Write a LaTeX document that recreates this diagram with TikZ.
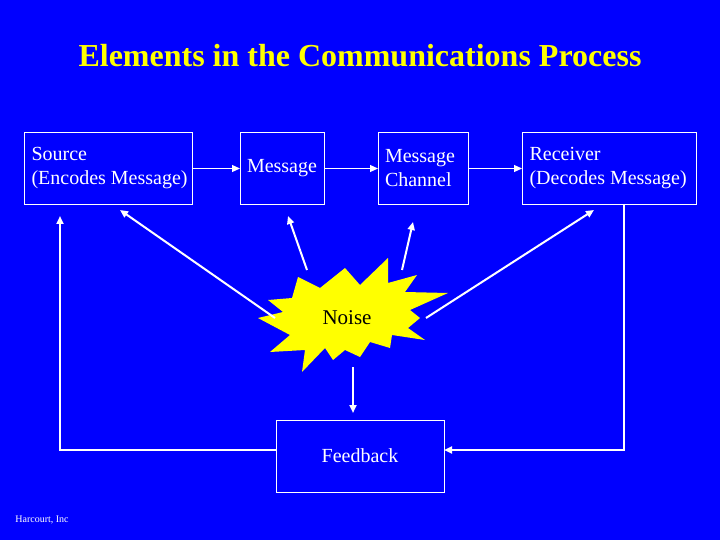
\documentclass[tikz,border=0pt]{standalone}
\usepackage{fontspec}
\setmainfont{Liberation Serif}
\usetikzlibrary{arrows.meta}
\definecolor{bg}{RGB}{0,0,255}
\definecolor{ttl}{RGB}{255,255,0}
\definecolor{burst}{RGB}{255,255,0}
\begin{document}
\begin{tikzpicture}[x=1pt,y=-1pt,
 box/.style={draw=white,line width=1pt,text=white,inner sep=0pt,anchor=north west},
 txt/.style={text=white,font=\fontsize{20}{24}\selectfont,align=left},
 arr/.style={draw=white,line width=2pt,-{Triangle[length=8pt,width=7pt]}},
 ln/.style={draw=white,line width=2pt}]
\fill[bg] (0,0) rectangle (720,540);
\useasboundingbox (0,0) rectangle (720,540);
\node[text=ttl,font=\bfseries\fontsize{32}{36}\selectfont] (title) at (360,56) {Elements in the Communications Process};
\node[box,minimum width=168pt,minimum height=72pt] (src) at (24,132) {};
\node[txt,anchor=west] (srct) at (28,168) {Source\\(Encodes Message)};
\node[box,minimum width=84pt,minimum height=72pt] (msg) at (240,132) {};
\node[txt] (msgt) at (282,168) {Message};
\node[box,minimum width=90pt,minimum height=72pt] (ch) at (378,132) {};
\node[txt] (cht) at (420,168) {Message\\Channel};
\node[box,minimum width=174pt,minimum height=72pt] (rc) at (522,132) {};
\node[txt,anchor=west] (rct) at (526,168) {Receiver\\(Decodes Message)};
\node[box,minimum width=168pt,minimum height=72pt] (fb) at (276,420) {};
\node[txt] (fbt) at (360,456) {Feedback};
\fill[burst] (258,318) -- (283,312) -- (268,300) -- (292,298) -- (298,277) -- (320,288) -- (345,268) -- (360,285) -- (388,258) -- (388,283) -- (417,275) -- (405,292) -- (448,293) -- (410,310) -- (420,318) -- (408,328) -- (425,340) -- (392,335) -- (390,348) -- (370,342) -- (360,357) -- (345,350) -- (333,360) -- (325,348) -- (302,372) -- (305,350) -- (270,352) -- (290,335) -- cycle;
\node[text=black,font=\fontsize{21}{24}\selectfont] (noise) at (347,318) {Noise};
\coordinate (n1) at (275,318); \coordinate (a1) at (120,210);
\coordinate (n2) at (307,270); \coordinate (a2) at (288,216);
\coordinate (n3) at (402,270); \coordinate (a3) at (413,222);
\coordinate (n4) at (426,318); \coordinate (a4) at (594,210);
\coordinate (n5) at (353,367); \coordinate (a5) at (353,413);
\draw[arr] (n1) -- (a1);
\draw[arr] (n2) -- (a2);
\draw[arr] (n3) -- (a3);
\draw[arr] (n4) -- (a4);
\draw[arr] (n5) -- (a5);
\draw[arr,line width=1.2pt] (src.east) -- (msg.west);
\draw[arr,line width=1.2pt] (msg.east) -- (ch.west);
\draw[arr,line width=1.2pt] (ch.east) -- (rc.west);
\coordinate (r1) at (624,204); \coordinate (r2) at (624,450);
\coordinate (fbr) at (444,450); \coordinate (fbl) at (276,450);
\coordinate (l1) at (60,450); \coordinate (l2) at (60,216);
\draw[arr] (r1) -- (r2) -- (fbr);
\draw[arr] (fbl) -- (l1) -- (l2);
\node[text=white,font=\fontsize{10}{11}\selectfont] (hc) at (42,520) {Harcourt, Inc};
\end{tikzpicture}
\end{document}
